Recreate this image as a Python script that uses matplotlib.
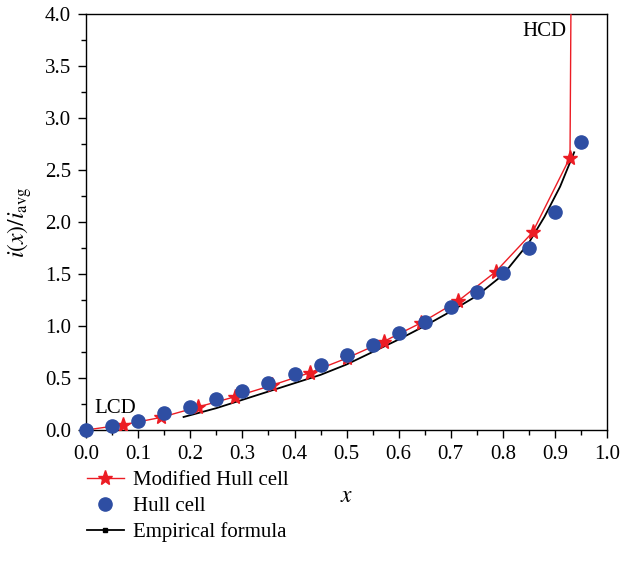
import numpy as np
import matplotlib.pyplot as plt
from matplotlib.lines import Line2D

plt.rcParams['font.family'] = ['Liberation Serif', 'DejaVu Serif']
plt.rcParams['mathtext.fontset'] = 'stix'

# Hull cell (measured)
hull_x = [0.0, 0.05, 0.10, 0.15, 0.20, 0.25, 0.30, 0.35, 0.40, 0.45,
          0.50, 0.55, 0.60, 0.65, 0.70, 0.75, 0.80, 0.85, 0.90, 0.95]
hull_y = [0.0, 0.04, 0.09, 0.16, 0.22, 0.30, 0.37, 0.45, 0.54, 0.62,
          0.72, 0.82, 0.93, 1.04, 1.18, 1.33, 1.51, 1.75, 2.10, 2.77]

# Modified Hull cell (line incl. start and the vertical rise at the end)
mod_x = [0.0, 0.071, 0.143, 0.214, 0.286, 0.357, 0.429, 0.500, 0.571,
         0.643, 0.714, 0.786, 0.857, 0.929, 0.932]
mod_y = [0.0, 0.05, 0.12, 0.22, 0.32, 0.43, 0.55, 0.69, 0.85,
         1.03, 1.24, 1.52, 1.90, 2.62, 5.0]
mod_stars = list(range(1, 14))

# Empirical formula
emp_x = [0.187, 0.25, 0.30, 0.35, 0.40, 0.45, 0.50, 0.55, 0.60,
         0.65, 0.70, 0.75, 0.80, 0.85, 0.88, 0.91, 0.937]
emp_y = [0.125, 0.21, 0.29, 0.37, 0.45, 0.53, 0.63, 0.75, 0.87,
         1.00, 1.14, 1.29, 1.49, 1.80, 2.05, 2.34, 2.67]

RED = '#ec1c24'
BLUE = '#2e4ea3'

fig = plt.figure(figsize=(6.2, 5.73), dpi=100)
ax = fig.add_axes([0.139, 0.2496, 0.84, 0.726])

ax.plot(emp_x, emp_y, color='black', lw=1.3, zorder=2)
ax.plot(mod_x, mod_y, color=RED, lw=1.0, marker='*', markersize=11,
        markevery=mod_stars, zorder=3)
ax.plot(hull_x, hull_y, 'o', color=BLUE, markersize=9.5, zorder=4,
        clip_on=False)

ax.set_xlim(0, 1.0)
ax.set_ylim(0, 4.0)
ax.set_xticks(np.arange(0, 1.01, 0.1))
ax.set_xticks(np.arange(0.05, 1.0, 0.1), minor=True)
ax.set_yticks(np.arange(0, 4.01, 0.5))
ax.set_yticks(np.arange(0.25, 4.0, 0.5), minor=True)
ax.xaxis.set_major_formatter(plt.FormatStrFormatter('%.1f'))
ax.yaxis.set_major_formatter(plt.FormatStrFormatter('%.1f'))
ax.tick_params(which='both', direction='out', labelsize=15, width=1, pad=5)
ax.tick_params(which='major', length=6)
ax.tick_params(which='minor', length=3.5)
for s in ax.spines.values():
    s.set_linewidth(1)

ax.set_xlabel(r'$x$', fontsize=17, labelpad=16)
ax.set_ylabel(r'$i(x)/i_{\mathrm{avg}}$', fontsize=17, labelpad=8)

ax.text(0.015, 0.165, 'LCD', fontsize=15)
ax.text(0.838, 3.79, 'HCD', fontsize=15)

handles = [
    Line2D([], [], color=RED, lw=1.0, marker='*', markersize=11),
    Line2D([], [], color=BLUE, ls='none', marker='o', markersize=9.5),
    Line2D([], [], color='black', lw=1.3, marker='s', markersize=3),
]
labels = ['Modified Hull cell', 'Hull cell', 'Empirical formula']
fig.legend(handles, labels, loc='upper left', bbox_to_anchor=(0.127, 0.193),
           frameon=False, fontsize=15, handlelength=1.75, handletextpad=0.45,
           labelspacing=0.3, borderaxespad=0)

fig.savefig('out.png', dpi=100)
